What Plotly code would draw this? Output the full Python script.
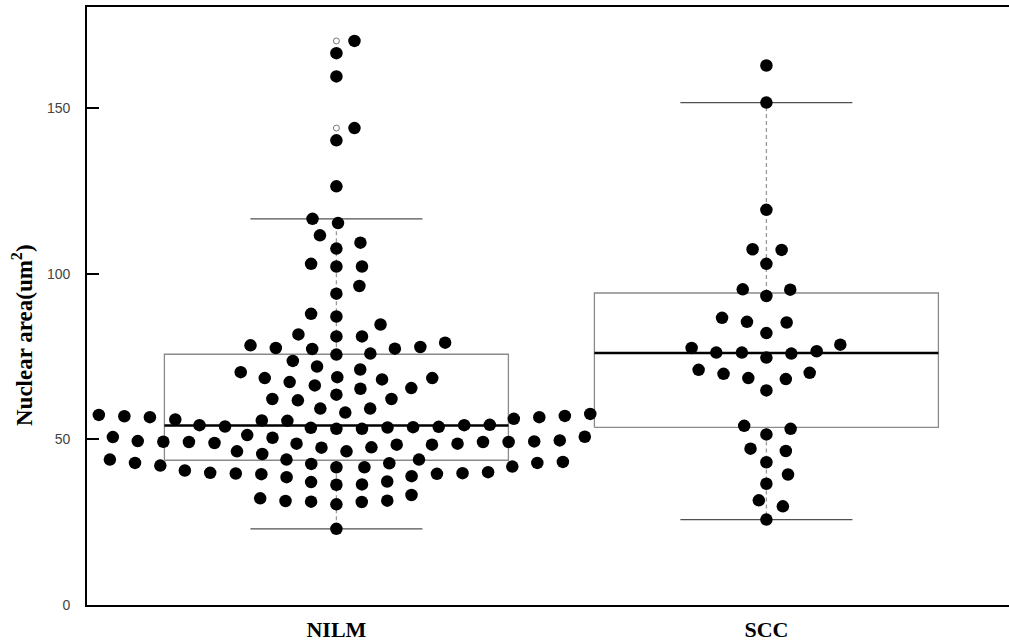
import numpy as np
import plotly.graph_objects as go

categories = ["NILM", "SCC"]

nilm_values = [
    170.3, 166.6, 159.6, 144.0, 140.3, 126.4, 116.6, 115.3, 111.6, 109.4, 107.6, 103.0, 102.2, 102.2, 96.3, 94.0,
    87.9, 87.1, 84.7, 81.7, 81.1, 81.1,
    78.4, 77.6, 75.9, 77.3, 75.6, 73.7,
    68.5, 68.5, 67.3, 68.8, 70.3, 71.1,
    65.3, 66.3, 63.5, 61.8, 62.2, 62.2,
    59.3, 57.4, 56.7, 57.0, 57.7,
    57.1, 56.2, 55.6, 54.3, 54.3, 53.6, 53.8, 53.2, 53.2, 53.7,
    50.5, 49.5, 49.2, 48.9, 48.7, 50.8, 49.3, 51.3, 48.4,
    46.4, 45.6, 47.6, 47.5,
    42.9, 42.6, 41.6, 40.1, 39.8, 39.6, 38.9, 43.9, 42.1, 43.9, 41.6, 42.9,
    37.3, 37.1, 36.3, 36.4,
    32.2, 31.4, 31.2, 30.4, 31.1,
    23.0,
    77.4, 77.9, 79.2, 72.0, 68.1, 65.5, 58.1, 59.3,
    53.5, 53.9, 54.4, 55.7, 56.0, 56.7,
    49.7, 46.4, 48.4, 48.7, 49.2, 49.2, 49.4, 50.7,
    43.9, 38.6, 39.5, 39.7, 39.9, 40.6, 41.8, 42.8, 43.2,
    31.5, 33.2,
]

scc_values = [
    162.9, 151.7, 119.3, 107.4, 107.2, 103.0, 95.2, 95.3, 93.3, 86.7, 85.5, 85.3, 82.1,
    77.6, 78.6, 76.2, 76.2, 74.7, 75.9, 76.6, 71.0, 69.8, 68.5, 68.2, 70.1, 64.8,
    54.1, 53.2, 51.5, 46.5, 47.2, 43.1, 39.4, 36.6, 31.6, 29.8, 25.8,
]

# box statistics: [lower whisker, Q1, median, Q3, upper whisker]
nilm_box = [23.0, 43.7, 54.2, 75.7, 116.6]
scc_box = [25.8, 53.6, 76.1, 94.2, 151.7]

y_ticks = [0, 50, 100, 150]

# ---------------- geometry ----------------
W, H = 1009, 644
ML, MR, MT, MB = 87, 0, 7, 39
plot_w = W - ML - MR
plot_h = H - MT - MB
px_per_cat = 430.0
x_lo = 0.42
x_hi = x_lo + plot_w / px_per_cat
y_lo, y_hi = 0.0, 180.55
px_per_y = plot_h / (y_hi - y_lo)

# swarm spacing (in pixels) converted to data units
xsize = 25.6 / px_per_cat
ysize = 17.3 / px_per_y


def swarm_offsets(vals):
    v = np.asarray(vals, dtype=float) / ysize
    order = np.argsort(v, kind="stable")
    px, py = [], []
    offs = np.zeros(len(v))
    for idx in order:
        yi = v[idx]
        if px:
            pxa = np.array(px)
            pya = np.array(py)
            close = (yi - pya) < 1
            if close.any():
                cx = pxa[close]
                cy = pya[close]
                srt = np.argsort(np.abs(cx), kind="stable")
                cx = cx[srt]
                cy = cy[srt]
                d = np.sqrt(np.clip(1 - (yi - cy) ** 2, 0, None))
                poss = np.concatenate([[0.0], cx + d, cx - d])
                bad = np.array([np.any((yi - cy) ** 2 + (p - cx) ** 2 < 0.999) for p in poss])
                poss = np.where(bad, np.inf, poss)
                xi = poss[np.argmin(np.abs(poss))]
            else:
                xi = 0.0
        else:
            xi = 0.0
        px.append(xi)
        py.append(yi)
        offs[idx] = xi
    return offs * xsize


fig = go.Figure()

groups = [(1, nilm_values, nilm_box), (2, scc_values, scc_box)]
bw = 0.4
cw = 0.2
for pos, vals, st in groups:
    lo, q1, med, q3, hi = st
    fig.add_trace(go.Scatter(x=[pos, pos, None, pos, pos], y=[q3, hi, None, q1, lo], mode="lines",
                             line=dict(color="#9a9a9a", width=1.3, dash="4px,3px"),
                             hoverinfo="skip", showlegend=False))
    fig.add_trace(go.Scatter(x=[pos - cw, pos + cw, None, pos - cw, pos + cw], y=[hi, hi, None, lo, lo],
                             mode="lines", line=dict(color="#505050", width=1.3),
                             hoverinfo="skip", showlegend=False))
    fig.add_trace(go.Scatter(x=[pos - bw, pos + bw, pos + bw, pos - bw, pos - bw], y=[q1, q1, q3, q3, q1],
                             mode="lines", line=dict(color="#8a8a8a", width=1.3),
                             hoverinfo="skip", showlegend=False))
    fig.add_trace(go.Scatter(x=[pos - bw, pos + bw], y=[med, med], mode="lines",
                             line=dict(color="black", width=2.6), hoverinfo="skip", showlegend=False))
    outl = [v for v in vals if v > hi + 1e-9 or v < lo - 1e-9]
    fig.add_trace(go.Scatter(x=[pos] * len(outl), y=outl, mode="markers",
                             marker=dict(symbol="circle-open", size=6, color="#777777", line=dict(width=1)),
                             hoverinfo="skip", showlegend=False))

for pos, vals, st in groups:
    offs = swarm_offsets(vals)
    fig.add_trace(go.Scatter(x=pos + offs, y=vals, mode="markers",
                             marker=dict(color="black", size=12.5, line=dict(width=0)),
                             showlegend=False))

fig.update_layout(
    width=W, height=H,
    margin=dict(l=ML, r=MR, t=MT, b=MB),
    paper_bgcolor="white", plot_bgcolor="white",
    xaxis=dict(range=[x_lo, x_hi], tickvals=[1, 2], ticktext=["<b>%s</b>" % c for c in categories],
               tickfont=dict(family="Liberation Serif", size=22, color="black"),
               showline=True, mirror=True, linecolor="black", linewidth=1.6,
               ticks="", showgrid=False, zeroline=False, ticklabelstandoff=4),
    yaxis=dict(range=[y_lo, y_hi], tickvals=y_ticks, ticktext=[str(t) for t in y_ticks],
               tickfont=dict(family="Liberation Sans", size=14, color="#444444"),
               showline=True, mirror=False, linecolor="black", linewidth=1.6,
               ticks="inside", ticklen=12, tickwidth=1.5, tickcolor="black",
               showgrid=False, zeroline=False, ticklabelstandoff=12),
    annotations=[dict(text="<b>Nuclear area(um<sup>2</sup>)</b>", textangle=-90,
                      xref="paper", yref="paper", x=(22 - ML) / plot_w, y=(H - MB - 335) / plot_h,
                      xanchor="center", yanchor="middle", showarrow=False,
                      font=dict(family="Liberation Serif", size=23, color="black"))],
)

fig.write_html("out.html", config={"displayModeBar": False},
               post_script="document.body.style.margin='0';document.body.style.overflow='hidden';")
